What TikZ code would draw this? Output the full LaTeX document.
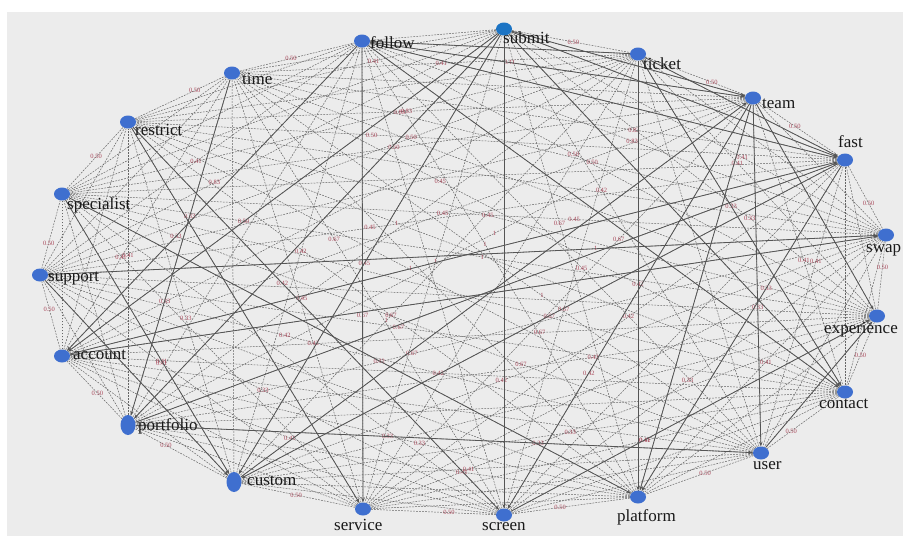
\documentclass[tikz,border=0pt]{standalone}
\usepackage{fontspec}
\setmainfont{Liberation Serif}
\usetikzlibrary{shapes.geometric,arrows.meta}
\pgfdeclarelayer{bg}
\pgfdeclarelayer{edges}
\pgfsetlayers{bg,edges,main}
\definecolor{canvas}{HTML}{ECECEC}
\definecolor{nodeblue}{HTML}{3F6FCF}
\definecolor{submitblue}{HTML}{1C74C4}
\definecolor{wlabel}{HTML}{A8485A}
\definecolor{dashgray}{HTML}{666666}
\definecolor{solidgray}{HTML}{555555}
\newcommand\wval[1]{\ifcase#1 0.50\or 0.33\or 1\or 0.75\or 0.67\or 0.50\or 0.25\or 0.45\or 0.41\or 0.56\or 0.83\or 0.42\fi}
\def\nodelist{submit,ticket,team,fast,swap,experience,contact,user,platform,screen,service,custom,portfolio,account,support,specialist,restrict,time,follow}
\begin{document}
\begin{tikzpicture}[x=1pt,y=-1pt,
  dot/.style={ellipse,fill=nodeblue,draw=none,inner sep=0pt,minimum width=16pt,minimum height=13pt},
  talldot/.style={dot,minimum width=15pt,minimum height=20pt},
  nlabel/.style={font=\fontsize{17}{17}\selectfont,text=black!90,inner sep=0pt,anchor=base west},
  dashedge/.style={draw=dashgray,line width=0.5pt,dash pattern=on 1.8pt off 1.2pt},
  solidedge/.style={draw=solidgray,line width=0.8pt,-{Stealth[length=4.5pt,width=3.5pt]}},
  wt/.style={font=\fontsize{6.5}{6.5}\selectfont,text=wlabel,inner sep=0.3pt}]
\useasboundingbox (0,0) rectangle (903,536);
\begin{pgfonlayer}{bg}
\fill[canvas] (7,12) rectangle (903,536);
\end{pgfonlayer}
% nodes
\node[dot,fill=submitblue] (submit) at (504,29) {};
\node[dot] (follow) at (362,41) {};
\node[dot] (ticket) at (638,54) {};
\node[dot] (time) at (232,73) {};
\node[dot] (team) at (753,98) {};
\node[dot] (restrict) at (128,122) {};
\node[dot] (fast) at (845,160) {};
\node[dot] (specialist) at (62,194) {};
\node[dot] (swap) at (886,235) {};
\node[dot] (support) at (40,275) {};
\node[dot] (experience) at (877,316) {};
\node[dot] (account) at (62,356) {};
\node[dot] (contact) at (845,392) {};
\node[talldot] (portfolio) at (128,425) {};
\node[dot] (user) at (761,453) {};
\node[talldot] (custom) at (234,482) {};
\node[dot] (platform) at (638,497) {};
\node[dot] (service) at (363,509) {};
\node[dot] (screen) at (504,515) {};
% labels
\node[nlabel] (submit-l) at (503,43) {submit};
\node[nlabel] (follow-l) at (370,48) {follow};
\node[nlabel] (ticket-l) at (643,69) {ticket};
\node[nlabel] (time-l) at (242,84) {time};
\node[nlabel] (team-l) at (762,108) {team};
\node[nlabel] (restrict-l) at (135,135) {restrict};
\node[nlabel] (fast-l) at (838,147) {fast};
\node[nlabel] (specialist-l) at (67,209) {specialist};
\node[nlabel] (swap-l) at (866,252) {swap};
\node[nlabel] (support-l) at (48,281) {support};
\node[nlabel] (experience-l) at (824,333) {experience};
\node[nlabel] (account-l) at (73,359) {account};
\node[nlabel] (contact-l) at (819,408) {contact};
\node[nlabel] (portfolio-l) at (138,430) {portfolio};
\node[nlabel] (user-l) at (753,469) {user};
\node[nlabel] (custom-l) at (247,485) {custom};
\node[nlabel] (platform-l) at (617,521) {platform};
\node[nlabel] (service-l) at (334,530) {service};
\node[nlabel] (screen-l) at (482,530) {screen};
% edges
\begin{pgfonlayer}{edges}
\foreach \a [count=\i] in \nodelist {
  \foreach \b [count=\j] in \nodelist {
    \ifnum\j>\i
      \draw[dashedge] (\a) -- (\b);
    \fi
  }
}
\foreach \a [count=\i] in \nodelist {
  \foreach \b [count=\j] in \nodelist {
    \ifnum\j>\i
      \pgfmathtruncatemacro\k{mod(\i*7+\j*5,12)}
      \pgfmathtruncatemacro\s{mod(\i+2*\j,3)}
      \pgfmathtruncatemacro\d{min(\j-\i,19-\j+\i)}
      \pgfmathsetmacro\p{0.34+0.036*mod(\i*3+\j,10)}
      \ifnum\s>0 \ifnum\d=2 \else
        \path (\a) -- (\b) node[wt,pos=\p] (w-\i-\j) {\wval{\k}};
      \fi\fi
    \fi
  }
}
\foreach \a/\b in {submit/screen,follow/service,team/user,time/portfolio,
  support/swap,account/fast,account/swap,portfolio/user,specialist/custom,
  specialist/platform,restrict/service,restrict/screen,follow/team,follow/fast,
  follow/account,follow/contact,submit/team,submit/fast,submit/account,
  submit/custom,submit/portfolio,submit/contact,ticket/follow,ticket/platform,
  ticket/contact,team/platform,team/experience,team/screen,fast/platform,
  fast/custom,portfolio/fast,custom/team,support/custom,screen/experience,
  user/experience,ticket/fast}
  \draw[solidedge] (\a) -- (\b);
\end{pgfonlayer}
\end{tikzpicture}
\end{document}
